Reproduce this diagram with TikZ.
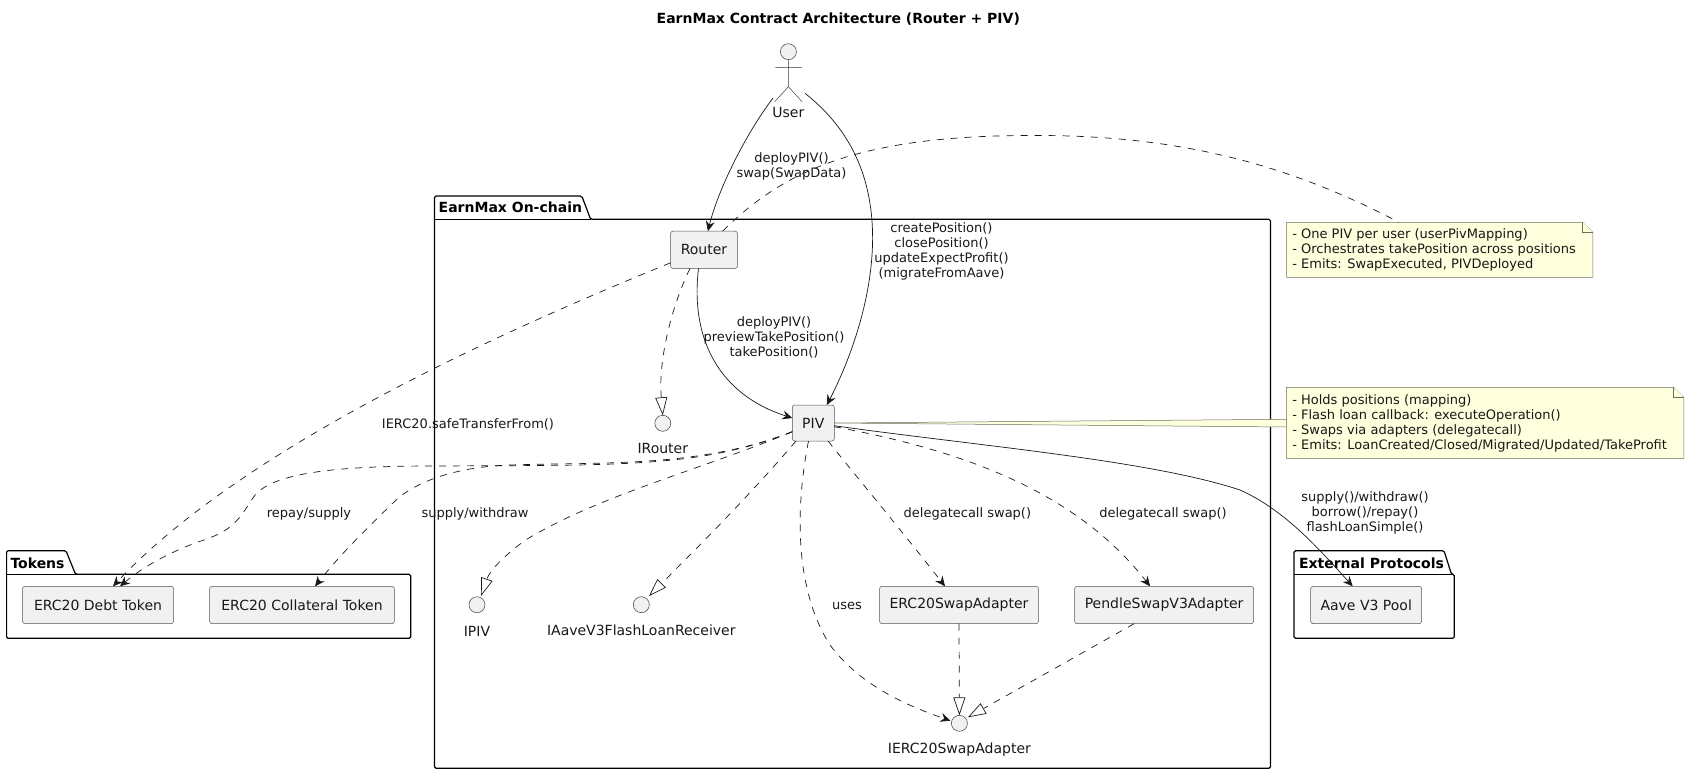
\documentclass[tikz,border=0pt]{standalone}
\usepackage{fontspec}
\setmainfont{DejaVu Sans}
\usetikzlibrary{arrows.meta}
\definecolor{boxfill}{HTML}{F1F1F1}
\definecolor{ink}{HTML}{181818}
\definecolor{notefill}{HTML}{FEFFDD}
\definecolor{notedraw}{HTML}{6E6E60}
\tikzset{
  x=1pt,y=-1pt,
  every node/.style={inner sep=0pt,outer sep=0pt,text=ink},
  comp/.style={draw=ink!75,line width=0.5pt,fill=boxfill,rounded corners=2.5pt,minimum height=37.4pt,font=\fontsize{14}{15}\selectfont},
  iface/.style={circle,draw=ink!85,line width=0.5pt,fill=boxfill,minimum size=16pt},
  txt/.style={font=\fontsize{14}{15}\selectfont,align=center},
  lab/.style={font=\fontsize{13}{15}\selectfont,align=center},
  pkg/.style={draw=black,line width=1.2pt,line join=round,rounded corners=1.5pt},
  pkgt/.style={font=\bfseries\fontsize{14}{15}\selectfont,anchor=west,text=black},
  note/.style={draw=notedraw,line width=0.5pt,fill=notefill},
  notet/.style={font=\fontsize{13}{15}\selectfont,align=left,anchor=west},
  dep/.style={draw=ink,line width=0.7pt,dash pattern=on 7pt off 7pt,-{Stealth[length=10pt,width=9pt,inset=3.5pt]}},
  sol/.style={draw=ink,line width=0.7pt,-{Stealth[length=10pt,width=9pt,inset=3.5pt]}},
  real/.style={draw=ink,line width=0.7pt,dash pattern=on 7pt off 7pt,-{Triangle[open,length=18pt,width=12pt,fill=white]}},
  notel/.style={draw=ink,line width=0.7pt,dash pattern=on 7pt off 7pt}
}
\begin{document}
\begin{tikzpicture}
\useasboundingbox (0,0) rectangle (1689,774);
\node[font=\bfseries\fontsize{14}{15}\selectfont,text=black] (title) at (838.3,19) {EarnMax Contract Architecture (Router + PIV)};
% packages
\draw[pkg] (434.5,219.3) -- (434.5,196) -- (581.8,196) -- (590.6,219.3) -- (1270.4,219.3) -- (1270.4,768.3) -- (434.5,768.3) -- cycle;
\draw[pkg,rounded corners=0pt] (434.5,219.3) -- (590.6,219.3);
\node[pkgt] (ponchain) at (438.7,207.5) {EarnMax On-chain};
\draw[pkg] (6.6,574.3) -- (6.6,550.7) -- (66,550.7) -- (75.5,574.3) -- (410.7,574.3) -- (410.7,638.3) -- (6.6,638.3) -- cycle;
\draw[pkg,rounded corners=0pt] (6.6,574.3) -- (75.5,574.3);
\node[pkgt] (ptokens) at (10.5,563) {Tokens};
\draw[pkg] (1294,574.3) -- (1294,550.7) -- (1444,550.7) -- (1451.5,574.3) -- (1454.3,574.3) -- (1454.3,638.3) -- (1294,638.3) -- cycle;
\draw[pkg,rounded corners=0pt] (1294,574.3) -- (1451.5,574.3);
\node[pkgt] (pext) at (1299,563) {External Protocols};
% actor
\node[circle,draw=ink!85,line width=0.5pt,fill=boxfill,minimum size=16pt] (head) at (788.4,51.7) {};
\node[txt] (user) at (788.4,112) {User};
\draw[draw=ink!85,line width=0.5pt] (head.south) -- (788.4,86.7) -- (774.7,101.7) (788.4,86.7) -- (802,101.7) (775.4,67.3) -- (801.8,67.3);
% components
\node[comp,minimum width=66.9pt] (router) at (704,249.8) {Router};
\node[comp,minimum width=42pt,minimum height=36pt] (piv) at (813.3,423) {PIV};
\node[comp,minimum width=151.1pt] (debt) at (98,605) {ERC20 Debt Token};
\node[comp,minimum width=184.7pt] (coll) at (302,605) {ERC20 Collateral Token};
\node[comp,minimum width=158.9pt] (erc) at (959,605) {ERC20SwapAdapter};
\node[comp,minimum width=179pt] (pendle) at (1164.1,605) {PendleSwapV3Adapter};
\node[comp,minimum width=111pt] (aave) at (1366.2,605) {Aave V3 Pool};
\node[iface] (irouter) at (662.8,423.3) {};
\node[iface] (ipiv) at (477,604.7) {};
\node[iface] (iaave) at (641.3,604.7) {};
\node[iface] (ierc) at (959.4,723.3) {};
\node[txt] (irouterl) at (662.8,448.5) {IRouter};
\node[txt] (ipivl) at (477,631) {IPIV};
\node[txt] (iaavel) at (641.3,630.5) {IAaveV3FlashLoanReceiver};
\node[txt] (ierclabel) at (959.4,750) {IERC20SwapAdapter};
% notes
\node[minimum width=306.3pt,minimum height=55pt] (n1) at (1439.7,249.8) {};
\node[minimum width=397.3pt,minimum height=71pt] (n2) at (1485.1,422.8) {};
\draw[note] (piv.east) -- (n2.west |- 0,419.3) -- (n2.west |- 0,427) -- cycle;
\draw[note] (n1.south west) -- (n1.north west) -- ([xshift=-10.3pt]n1.north east) -- ([yshift=-10pt]n1.north east) -- (n1.south east) -- cycle;
\draw[note] ([xshift=-10.3pt]n1.north east) -- ([xshift=-10.3pt,yshift=-10pt]n1.north east) -- ([yshift=-10pt]n1.north east);
\draw[note] (n2.south west) -- (n2.north west) -- ([xshift=-10.3pt]n2.north east) -- ([yshift=-10pt]n2.north east) -- (n2.south east) -- cycle;
\draw[note] ([xshift=-10.3pt]n2.north east) -- ([xshift=-10.3pt,yshift=-10pt]n2.north east) -- ([yshift=-10pt]n2.north east);
\node[notet] (n1t) at (1292.3,250.3) {- One PIV per user (userPivMapping)\\- Orchestrates takePosition across positions\\- Emits: SwapExecuted, PIVDeployed};
\node[notet] (n2t) at (1292.3,423.3) {- Holds positions (mapping)\\- Flash loan callback: executeOperation()\\- Swaps via adapters (delegatecall)\\- Emits: LoanCreated/Closed/Migrated/Updated/TakeProfit};
% connectors
\draw[sol] ([shift={(-15.4,-14)}]user.center) .. controls (745,135) and (718,190) .. ([xshift=3.9pt]router.north);
\draw[sol] ([shift={(16.6,-18.7)}]user.center) .. controls (845,125) and (873,170) .. (872.6,240) .. controls (872,300) and (850,360) .. ([xshift=13.6pt]piv.north);
\draw[notel] ([xshift=18.6pt]router.north) .. controls (780,175) and (850,135) .. (1034,135.5) .. controls (1180,135) and (1290,165) .. ([xshift=-40.7pt]n1.north);
\draw[dep] ([yshift=-13pt]router.west) .. controls (530,320) and (250,440) .. ([xshift=15pt]debt.north);
\draw[real] ([xshift=-14pt]router.south) .. controls (672,305) and (658,360) .. (irouter.north);
\draw[sol] ([xshift=-5.5pt]router.south) .. controls (690,340) and (720,395) .. ([yshift=5pt]piv.west);
\draw[dep] ([yshift=-8.7pt]piv.west) .. controls (700,468) and (620,465) .. (434.7,466) .. controls (340,466) and (275,472) .. (255,495) .. controls (238,520) and (235,530) .. (199,541.7) .. controls (175,550) and (145,565) .. ([xshift=22pt]debt.north);
\draw[dep] ([yshift=-8.7pt]piv.west) .. controls (700,468) and (600,462) .. (510,465) .. controls (450,467) and (410,485) .. (393,503) .. controls (365,530) and (340,555) .. ([xshift=13pt]coll.north);
\draw[real] ([yshift=-8.7pt]piv.west) .. controls (700,470) and (600,495) .. (525.5,540) .. controls (505,555) and (490,570) .. ([shift={(4,-8.7)}]ipiv.center);
\draw[real] ([xshift=3.7pt]piv.south west) .. controls (750,495) and (700,545) .. ([shift={(7.7,-8.7)}]iaave.center);
\draw[dep] ([xshift=-4.8pt]piv.south) .. controls (795,510) and (795,590) .. (830,645) .. controls (860,685) and (905,705) .. ([shift={(-9,-2.6)}]ierc.center);
\draw[dep] ([xshift=14.7pt]piv.south) .. controls (865,487) and (905,535) .. ([xshift=-14pt]erc.north);
\draw[dep] ([yshift=-3.7pt]piv.east) .. controls (960,450) and (1075,490) .. ([xshift=-14pt]pendle.north);
\draw[sol] ([yshift=-2.7pt]piv.east) .. controls (970,445) and (1150,460) .. (1240,490) .. controls (1285,510) and (1320,550) .. ([xshift=-13.5pt]aave.north);
\draw[real] (erc.south) -- (ierc.north);
\draw[real] ([xshift=-30pt]pendle.south) -- ([shift={(8.5,-6)}]ierc.center);
% labels
\node[lab] (l1) at (791.5,166) {deployPIV()\\swap(SwapData)};
\node[lab] (l2) at (941.5,251) {createPosition()\\closePosition()\\updateExpectProfit()\\(migrateFromAave)};
\node[lab] (l3) at (774,337) {deployPIV()\\previewTakePosition()\\takePosition()};
\node[lab] (l4) at (468,424) {IERC20.safeTransferFrom()};
\node[lab] (l5) at (309,513.7) {repay/supply};
\node[lab] (l6) at (475,513.7) {supply/withdraw};
\node[lab] (l7) at (967.4,513.7) {delegatecall swap()};
\node[lab] (l8) at (1163,513.7) {delegatecall swap()};
\node[lab] (l9) at (846.9,606) {uses};
\node[lab] (l10) at (1365,513.3) {supply()/withdraw()\\borrow()/repay()\\flashLoanSimple()};
\end{tikzpicture}
\end{document}
